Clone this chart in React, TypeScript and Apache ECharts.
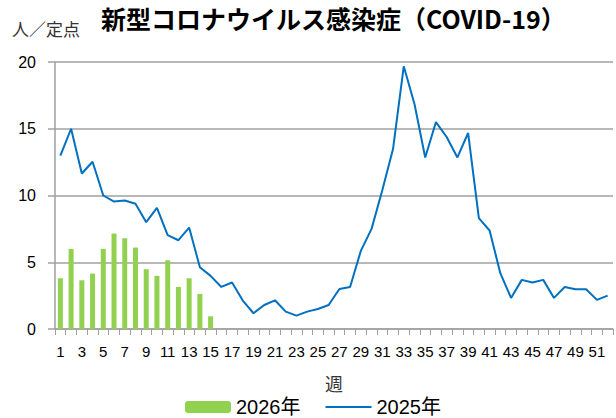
import React, { useEffect, useRef } from "react";
import * as echarts from "echarts";

const weeks: string[] = Array.from({ length: 52 }, (_, i) => String(i + 1));

const series2026: number[] = [
  3.8, 6.0, 3.65, 4.15, 6.0, 7.15, 6.8, 6.1, 4.48, 3.98, 5.15, 3.15, 3.8, 2.63, 0.95,
];

const series2025: number[] = [
  12.98, 15.0, 11.65, 12.53, 10.0, 9.55, 9.63, 9.38, 8.0, 9.08,
  7.03, 6.65, 7.6, 4.63, 3.98, 3.15, 3.48, 2.13, 1.18, 1.8,
  2.15, 1.3, 1.0, 1.3, 1.5, 1.8, 3.0, 3.15, 5.85, 7.5,
  10.4, 13.48, 19.68, 16.85, 12.85, 15.5, 14.38, 12.85, 14.68, 8.3,
  7.38, 4.18, 2.33, 3.68, 3.48, 3.68, 2.33, 3.15, 2.98, 2.98,
  2.18, 2.5,
];

const yTicks = { min: 0, max: 20, interval: 5 };

const FONT = "'Liberation Sans', 'Noto Sans CJK JP', sans-serif";
const CJK = "'Noto Sans CJK JP', 'Liberation Sans', sans-serif";
const GRAY = "#A0A0A0";

export default function App() {
  const ref = useRef<HTMLDivElement>(null);
  useEffect(() => {
    document.body.style.margin = "0";
    const chart = echarts.init(ref.current!, null, { renderer: "svg" });
    chart.setOption({
      animation: false,
      backgroundColor: "#ffffff",
      textStyle: { fontFamily: FONT },
      grid: { left: 55, right: 3, top: 62, bottom: 89, containLabel: false },
      graphic: [
        {
          type: "text",
          left: 101,
          top: 5,
          style: {
            text: "新型コロナウイルス感染症（COVID-19）",
            font: `bold 25px ${CJK}`,
            fill: "#000000",
          },
        },
        {
          type: "text",
          left: 12,
          top: 20,
          style: {
            text: "人／定点",
            font: `17px ${CJK}`,
            fill: "#333333",
          },
        },
        {
          type: "text",
          left: 325,
          top: 374,
          style: {
            text: "週",
            font: `18px ${CJK}`,
            fill: "#333333",
          },
        },
      ],
      legend: {
        data: [
          { name: "2026年" },
          { name: "2025年", itemStyle: { opacity: 0 } },
        ],
        left: 185,
        top: 397,
        padding: 0,
        itemWidth: 46,
        itemHeight: 12,
        itemGap: 24,
        textStyle: { fontSize: 20, color: "#000000", fontFamily: FONT },
      },
      xAxis: {
        type: "category",
        data: weeks,
        boundaryGap: true,
        axisLine: { show: true, lineStyle: { color: GRAY, width: 1.5 } },
        axisTick: { show: true, interval: 0, length: 6, lineStyle: { color: GRAY } },
        axisLabel: { interval: 1, fontSize: 15, color: "#000000", margin: 15, fontFamily: FONT },
        splitLine: { show: false },
      },
      yAxis: {
        type: "value",
        min: yTicks.min,
        max: yTicks.max,
        interval: yTicks.interval,
        axisLine: { show: true, lineStyle: { color: GRAY, width: 1.5 } },
        axisTick: { show: true, length: 7, lineStyle: { color: GRAY, width: 1.5 } },
        axisLabel: { fontSize: 16, color: "#000000", margin: 19, fontFamily: FONT },
        splitLine: { show: true, lineStyle: { color: GRAY, width: 1.5 } },
      },
      series: [
        {
          name: "2026年",
          type: "bar",
          data: series2026,
          barWidth: 5,
          itemStyle: { color: "#92D050" },
        },
        {
          name: "2025年",
          type: "line",
          data: series2025,
          symbol: "none",
          showSymbol: false,
          lineStyle: { color: "#0070C0", width: 2 },
          itemStyle: { color: "#0070C0" },
        },
      ],
    });
    return () => chart.dispose();
  }, []);
  return (
    <div
      ref={ref}
      style={{ width: 616, height: 418, position: "absolute", left: 0, top: 0 }}
    />
  );
}
